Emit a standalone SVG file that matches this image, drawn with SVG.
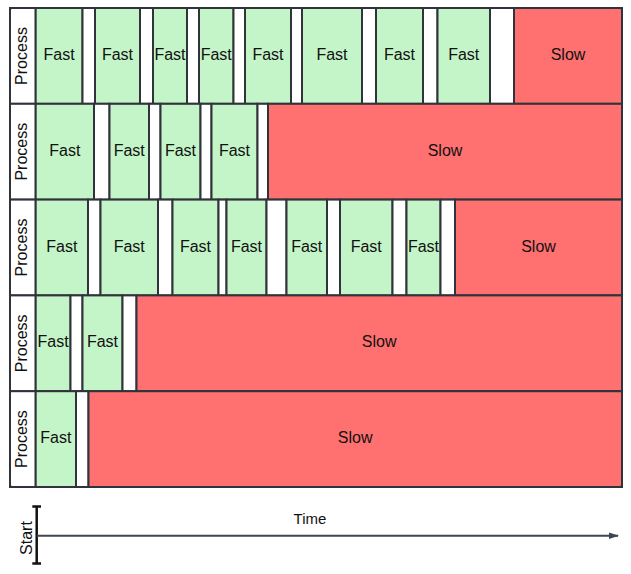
<svg xmlns="http://www.w3.org/2000/svg" width="631" height="574" viewBox="0 0 631 574">
<style>
rect{stroke:#30343a;stroke-width:2}
.f{fill:#c4f5c8}
.s{fill:#ff7070}
.w{fill:#ffffff}
text{font-family:"Liberation Sans",Arial,sans-serif;font-size:16px;fill:#111;text-anchor:middle}
.ax{font-size:15px}
</style>
<defs>
<marker id="ah" markerWidth="10" markerHeight="8" refX="9" refY="4" orient="auto" markerUnits="userSpaceOnUse">
<path d="M0,0.8 L10,4 L0,7.2 Z" fill="#3f464f"/>
</marker>
</defs>
<rect x="10" y="8" width="612" height="479" rx="2" class="w"/>
<g id="row1">
<g id="r1-label"><rect x="10" y="8" width="25.7" height="95.8" class="w"/><text transform="translate(27,56) rotate(-90)">Process</text></g>
<g id="r1-c1"><rect x="35.7" y="8" width="46.8" height="95.8" class="f"/><text x="59.1" y="60">Fast</text></g>
<g id="r1-g1"><rect x="82.5" y="8" width="12.5" height="95.8" class="w"/></g>
<g id="r1-c2"><rect x="95" y="8" width="45" height="95.8" class="f"/><text x="117.5" y="60">Fast</text></g>
<g id="r1-g2"><rect x="140" y="8" width="13" height="95.8" class="w"/></g>
<g id="r1-c3"><rect x="153" y="8" width="34" height="95.8" class="f"/><text x="170" y="60">Fast</text></g>
<g id="r1-g3"><rect x="187" y="8" width="12" height="95.8" class="w"/></g>
<g id="r1-c4"><rect x="199" y="8" width="34.5" height="95.8" class="f"/><text x="216.2" y="60">Fast</text></g>
<g id="r1-g4"><rect x="233.5" y="8" width="11.5" height="95.8" class="w"/></g>
<g id="r1-c5"><rect x="245" y="8" width="46" height="95.8" class="f"/><text x="268" y="60">Fast</text></g>
<g id="r1-g5"><rect x="291" y="8" width="11" height="95.8" class="w"/></g>
<g id="r1-c6"><rect x="302" y="8" width="60" height="95.8" class="f"/><text x="332" y="60">Fast</text></g>
<g id="r1-g6"><rect x="362" y="8" width="14" height="95.8" class="w"/></g>
<g id="r1-c7"><rect x="376" y="8" width="47" height="95.8" class="f"/><text x="399.5" y="60">Fast</text></g>
<g id="r1-g7"><rect x="423" y="8" width="14.5" height="95.8" class="w"/></g>
<g id="r1-c8"><rect x="437.5" y="8" width="52.5" height="95.8" class="f"/><text x="463.7" y="60">Fast</text></g>
<g id="r1-g8"><rect x="490" y="8" width="24" height="95.8" class="w"/></g>
<g id="r1-slow"><rect x="514" y="8" width="108" height="95.8" class="s"/><text x="568" y="60">Slow</text></g>
</g>
<g id="row2">
<g id="r2-label"><rect x="10" y="103.8" width="25.7" height="95.8" class="w"/><text transform="translate(27,151.7) rotate(-90)">Process</text></g>
<g id="r2-c1"><rect x="35.7" y="103.8" width="58.3" height="95.8" class="f"/><text x="64.9" y="155.8">Fast</text></g>
<g id="r2-g1"><rect x="94" y="103.8" width="15.5" height="95.8" class="w"/></g>
<g id="r2-c2"><rect x="109.5" y="103.8" width="39.5" height="95.8" class="f"/><text x="129.2" y="155.8">Fast</text></g>
<g id="r2-g2"><rect x="149" y="103.8" width="11.5" height="95.8" class="w"/></g>
<g id="r2-c3"><rect x="160.5" y="103.8" width="40" height="95.8" class="f"/><text x="180.5" y="155.8">Fast</text></g>
<g id="r2-g3"><rect x="200.5" y="103.8" width="11" height="95.8" class="w"/></g>
<g id="r2-c4"><rect x="211.5" y="103.8" width="46" height="95.8" class="f"/><text x="234.5" y="155.8">Fast</text></g>
<g id="r2-g4"><rect x="257.5" y="103.8" width="10.5" height="95.8" class="w"/></g>
<g id="r2-slow"><rect x="268" y="103.8" width="354" height="95.8" class="s"/><text x="445" y="155.8">Slow</text></g>
</g>
<g id="row3">
<g id="r3-label"><rect x="10" y="199.6" width="25.7" height="95.8" class="w"/><text transform="translate(27,247.5) rotate(-90)">Process</text></g>
<g id="r3-c1"><rect x="35.7" y="199.6" width="52.3" height="95.8" class="f"/><text x="61.8" y="251.6">Fast</text></g>
<g id="r3-g1"><rect x="88" y="199.6" width="12.5" height="95.8" class="w"/></g>
<g id="r3-c2"><rect x="100.5" y="199.6" width="57.5" height="95.8" class="f"/><text x="129.2" y="251.6">Fast</text></g>
<g id="r3-g2"><rect x="158" y="199.6" width="14.5" height="95.8" class="w"/></g>
<g id="r3-c3"><rect x="172.5" y="199.6" width="46" height="95.8" class="f"/><text x="195.5" y="251.6">Fast</text></g>
<g id="r3-g3"><rect x="218.5" y="199.6" width="8" height="95.8" class="w"/></g>
<g id="r3-c4"><rect x="226.5" y="199.6" width="40" height="95.8" class="f"/><text x="246.5" y="251.6">Fast</text></g>
<g id="r3-g4"><rect x="266.5" y="199.6" width="20" height="95.8" class="w"/></g>
<g id="r3-c5"><rect x="286.5" y="199.6" width="40.5" height="95.8" class="f"/><text x="306.7" y="251.6">Fast</text></g>
<g id="r3-g5"><rect x="327" y="199.6" width="13" height="95.8" class="w"/></g>
<g id="r3-c6"><rect x="340" y="199.6" width="52.5" height="95.8" class="f"/><text x="366.2" y="251.6">Fast</text></g>
<g id="r3-g6"><rect x="392.5" y="199.6" width="14" height="95.8" class="w"/></g>
<g id="r3-c7"><rect x="406.5" y="199.6" width="34" height="95.8" class="f"/><text x="423.5" y="251.6">Fast</text></g>
<g id="r3-g7"><rect x="440.5" y="199.6" width="14.5" height="95.8" class="w"/></g>
<g id="r3-slow"><rect x="455" y="199.6" width="167" height="95.8" class="s"/><text x="538.5" y="251.6">Slow</text></g>
</g>
<g id="row4">
<g id="r4-label"><rect x="10" y="295.4" width="25.7" height="95.8" class="w"/><text transform="translate(27,343.3) rotate(-90)">Process</text></g>
<g id="r4-c1"><rect x="35.7" y="295.4" width="34.8" height="95.8" class="f"/><text x="53.1" y="347.4">Fast</text></g>
<g id="r4-g1"><rect x="70.5" y="295.4" width="12" height="95.8" class="w"/></g>
<g id="r4-c2"><rect x="82.5" y="295.4" width="40" height="95.8" class="f"/><text x="102.5" y="347.4">Fast</text></g>
<g id="r4-g2"><rect x="122.5" y="295.4" width="14" height="95.8" class="w"/></g>
<g id="r4-slow"><rect x="136.5" y="295.4" width="485.5" height="95.8" class="s"/><text x="379.2" y="347.4">Slow</text></g>
</g>
<g id="row5">
<g id="r5-label"><rect x="10" y="391.2" width="25.7" height="95.8" class="w"/><text transform="translate(27,439.1) rotate(-90)">Process</text></g>
<g id="r5-c1"><rect x="35.7" y="391.2" width="40.3" height="95.8" class="f"/><text x="55.8" y="443.2">Fast</text></g>
<g id="r5-g1"><rect x="76" y="391.2" width="12.5" height="95.8" class="w"/></g>
<g id="r5-slow"><rect x="88.5" y="391.2" width="533.5" height="95.8" class="s"/><text x="355.2" y="443.2">Slow</text></g>
</g>
<rect x="10" y="8" width="612" height="479" rx="2" fill="none" stroke-width="2.5"/>
<g id="start">
<line x1="36.7" y1="506.5" x2="36.7" y2="563.5" stroke="#111" stroke-width="2.5"/>
<line x1="32.3" y1="506.5" x2="41" y2="506.5" stroke="#111" stroke-width="2.5"/>
<line x1="32.3" y1="563.5" x2="41" y2="563.5" stroke="#111" stroke-width="2.5"/>
<text transform="translate(31.5,538) rotate(-90)">Start</text>
</g>
<g id="connectors">
<line x1="37" y1="535.7" x2="618" y2="535.7" stroke="#3f464f" stroke-width="2" marker-end="url(#ah)"/>
</g>
<text class="ax" x="310" y="524">Time</text>
</svg>
